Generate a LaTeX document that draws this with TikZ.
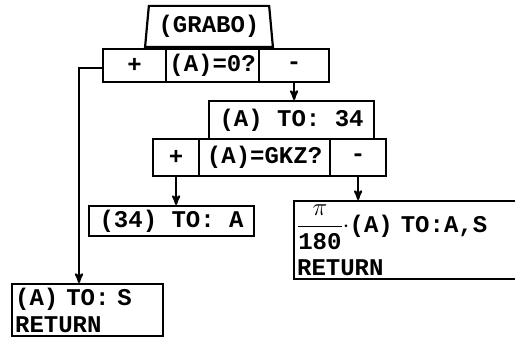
\documentclass[tikz,border=0pt]{standalone}
\usepackage{fontspec}
\setmonofont{Liberation Mono}
\usepackage{tikz}
\usetikzlibrary{arrows}
\usetikzlibrary{shapes.geometric}
\tikzset{
  cell/.style={draw, anchor=north west, inner sep=0pt, minimum width=#1},
  textbox/.style={draw, anchor=north west, inner xsep=3pt, inner ysep=0pt, text width=#1, align=left},
}

\begin{document}
\begin{tikzpicture} [x=1pt, y=-1pt, line width=2.2pt,
  font=\ttfamily\bfseries\fontsize{24}{27}\selectfont]
\useasboundingbox (0,0) rectangle (515,347);
% head of the decision
\node[trapezium, draw, trapezium angle=82, trapezium stretches=true,
  minimum width=128pt, minimum height=41pt, inner sep=0pt, anchor=bottom side]
  (grabo) at (209,48) {(GRABO)};
% first test
\node[cell=63pt, minimum height=33pt] (plusA) at (102,48) {+};
\node[cell=93pt, minimum height=33pt] (testA) at (165,48) {(A)=0?};
\node[cell=70pt, minimum height=33pt] (minusA) at (258,48) {-};
\node[cell=165pt, minimum height=38pt] (toX) at (208,100) {(A) TO: 34};
% second test
\node[cell=46pt, minimum height=37pt] (plusB) at (152,138) {+};
\node[cell=131pt, minimum height=37pt] (testB) at (198,138) {(A)=GKZ?};
\node[cell=56pt, minimum height=37pt] (minusB) at (329,138) {-};
% results
\node[cell=165pt, minimum height=30pt] (toA) at (88,205) {(34) TO: A};
\node[textbox=224pt, minimum height=78pt] (conv) at (293,200)
  {$\displaystyle\frac{\pi}{\mbox{180}}$$\cdot$(A) TO:A,S\\[9pt]RETURN};
\node[textbox=145pt, minimum height=52pt] (toS) at (11,283) {(A) TO: S\\RETURN};

\coordinate (bend) at (79,68);
\draw[->, >=stealth'] (minusA.south) -- (minusA.south |- toX.north);
\draw[->, >=stealth'] (plusB.south) -- (plusB.south |- toA.north);
\draw[->, >=stealth'] (minusB.south) -- (minusB.south |- conv.north);
\draw[->, >=stealth'] (plusA.west |- bend) -- (bend) -- (bend |- toS.north);
\end{tikzpicture}
\end{document}
